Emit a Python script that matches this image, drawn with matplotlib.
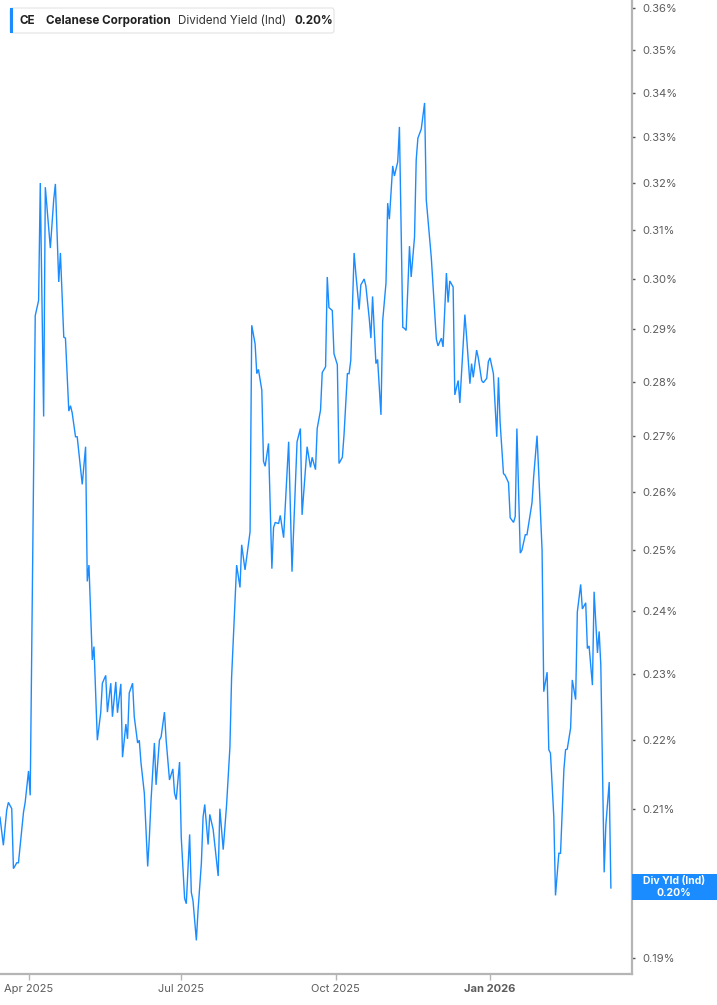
import pandas as pd
import matplotlib
matplotlib.use("Agg")
import matplotlib.pyplot as plt
from matplotlib.patches import Rectangle, FancyBboxPatch
from matplotlib.ticker import FixedLocator, FuncFormatter, NullLocator

plt.rcParams["font.family"] = ["Inter", "DejaVu Sans"]

# CE dividend yield (indicated), %
dates = [
    "2025-03-15", "2025-03-17", "2025-03-19", "2025-03-20", "2025-03-22", "2025-03-23", "2025-03-25", "2025-03-26", "2025-03-29", "2025-03-30",
    "2025-04-01", "2025-04-02", "2025-04-05", "2025-04-07", "2025-04-08", "2025-04-10", "2025-04-11", "2025-04-14", "2025-04-16", "2025-04-17",
    "2025-04-19", "2025-04-20", "2025-04-22", "2025-04-23", "2025-04-25", "2025-04-26", "2025-04-27", "2025-04-29", "2025-04-30", "2025-05-03",
    "2025-05-05", "2025-05-06", "2025-05-07", "2025-05-09", "2025-05-10", "2025-05-12", "2025-05-14", "2025-05-15", "2025-05-17", "2025-05-18",
    "2025-05-20", "2025-05-21", "2025-05-23", "2025-05-24", "2025-05-26", "2025-05-27", "2025-05-29", "2025-05-30", "2025-05-31", "2025-06-02",
    "2025-06-03", "2025-06-05", "2025-06-06", "2025-06-07", "2025-06-09", "2025-06-11", "2025-06-12", "2025-06-13", "2025-06-15", "2025-06-16",
    "2025-06-18", "2025-06-19", "2025-06-21", "2025-06-22", "2025-06-24", "2025-06-26", "2025-06-27", "2025-06-28", "2025-06-30",
    "2025-07-01", "2025-07-03", "2025-07-04", "2025-07-06", "2025-07-07", "2025-07-08", "2025-07-10", "2025-07-11", "2025-07-13", "2025-07-14",
    "2025-07-15", "2025-07-17", "2025-07-18", "2025-07-20", "2025-07-21", "2025-07-23", "2025-07-24", "2025-07-26", "2025-07-27", "2025-07-28",
    "2025-07-30", "2025-07-31", "2025-08-03", "2025-08-05", "2025-08-06", "2025-08-08", "2025-08-11", "2025-08-12", "2025-08-14", "2025-08-15",
    "2025-08-16", "2025-08-18", "2025-08-19", "2025-08-20", "2025-08-22", "2025-08-24", "2025-08-25", "2025-08-26", "2025-08-28", "2025-08-29",
    "2025-08-31", "2025-09-03", "2025-09-05", "2025-09-08", "2025-09-10", "2025-09-11", "2025-09-14", "2025-09-16", "2025-09-17", "2025-09-19",
    "2025-09-20", "2025-09-22", "2025-09-23", "2025-09-25", "2025-09-26", "2025-09-27", "2025-09-29", "2025-09-30",
    "2025-10-02", "2025-10-03", "2025-10-05", "2025-10-06", "2025-10-08", "2025-10-09", "2025-10-10", "2025-10-12", "2025-10-13", "2025-10-15",
    "2025-10-16", "2025-10-18", "2025-10-19", "2025-10-21", "2025-10-22", "2025-10-23", "2025-10-25", "2025-10-26", "2025-10-28", "2025-10-29",
    "2025-10-31", "2025-11-01", "2025-11-02", "2025-11-04", "2025-11-05", "2025-11-07", "2025-11-08", "2025-11-10", "2025-11-11", "2025-11-12",
    "2025-11-14", "2025-11-15", "2025-11-17", "2025-11-18", "2025-11-19", "2025-11-21", "2025-11-23", "2025-11-24", "2025-11-27", "2025-11-30",
    "2025-12-01", "2025-12-03", "2025-12-04", "2025-12-06", "2025-12-07", "2025-12-08", "2025-12-10", "2025-12-11", "2025-12-13", "2025-12-14",
    "2025-12-17", "2025-12-18", "2025-12-20", "2025-12-21", "2025-12-22", "2025-12-24", "2025-12-25", "2025-12-27", "2025-12-28", "2025-12-30",
    "2025-12-31",
    "2026-01-01", "2026-01-03", "2026-01-05", "2026-01-06", "2026-01-07", "2026-01-09", "2026-01-10", "2026-01-12", "2026-01-13", "2026-01-15",
    "2026-01-16", "2026-01-17", "2026-01-19", "2026-01-20", "2026-01-22", "2026-01-23", "2026-01-26", "2026-01-27", "2026-01-29", "2026-01-30",
    "2026-02-01", "2026-02-02", "2026-02-04", "2026-02-05", "2026-02-06", "2026-02-08", "2026-02-09", "2026-02-11", "2026-02-12", "2026-02-14",
    "2026-02-15", "2026-02-16", "2026-02-18", "2026-02-19", "2026-02-21", "2026-02-22", "2026-02-24", "2026-02-25", "2026-02-27", "2026-02-28",
    "2026-03-01", "2026-03-03", "2026-03-04", "2026-03-06", "2026-03-07", "2026-03-08", "2026-03-10", "2026-03-11", "2026-03-13", "2026-03-14",
]

div_yield = [
    0.2089, 0.2050, 0.2099, 0.2110, 0.2101, 0.2018, 0.2026, 0.2026, 0.2096, 0.2110,
    0.2155, 0.2120, 0.2927, 0.2957, 0.3200, 0.2735, 0.3191, 0.3063, 0.3164, 0.3198,
    0.2994, 0.3053, 0.2885, 0.2883, 0.2745, 0.2755, 0.2742, 0.2698, 0.2698, 0.2613,
    0.2680, 0.2448, 0.2475, 0.2322, 0.2343, 0.2200, 0.2241, 0.2286, 0.2298, 0.2242,
    0.2286, 0.2235, 0.2288, 0.2241, 0.2285, 0.2175, 0.2224, 0.2202, 0.2271, 0.2286,
    0.2235, 0.2196, 0.2200, 0.2167, 0.2123, 0.2021, 0.2061, 0.2113, 0.2196, 0.2135,
    0.2200, 0.2205, 0.2242, 0.2200, 0.2142, 0.2158, 0.2123, 0.2114, 0.2168,
    0.2061, 0.1978, 0.1971, 0.2065, 0.1986, 0.1975, 0.1923, 0.1962, 0.2026, 0.2089,
    0.2107, 0.2051, 0.2093, 0.2072, 0.2050, 0.2008, 0.2101, 0.2044, 0.2075, 0.2106,
    0.2190, 0.2295, 0.2475, 0.2438, 0.2509, 0.2467, 0.2531, 0.2908, 0.2872, 0.2815,
    0.2823, 0.2784, 0.2654, 0.2645, 0.2686, 0.2469, 0.2538, 0.2547, 0.2545, 0.2559,
    0.2521, 0.2689, 0.2464, 0.2689, 0.2713, 0.2560, 0.2680, 0.2643, 0.2661, 0.2639,
    0.2713, 0.2747, 0.2817, 0.2828, 0.3004, 0.2943, 0.2937, 0.2853,
    0.2832, 0.2650, 0.2661, 0.2702, 0.2815, 0.2815, 0.2840, 0.3053, 0.3012, 0.2939,
    0.2988, 0.3000, 0.2986, 0.2922, 0.2883, 0.2965, 0.2834, 0.2842, 0.2738, 0.2916,
    0.2992, 0.3157, 0.3123, 0.3237, 0.3215, 0.3246, 0.3323, 0.2904, 0.2902, 0.2898,
    0.3067, 0.3004, 0.3086, 0.3250, 0.3298, 0.3318, 0.3377, 0.3164, 0.3043, 0.2881,
    0.2868, 0.2883, 0.2866, 0.3012, 0.2953, 0.2996, 0.2984, 0.2775, 0.2802, 0.2760,
    0.2929, 0.2887, 0.2796, 0.2834, 0.2808, 0.2860, 0.2845, 0.2802, 0.2798, 0.2806,
    0.2838,
    0.2845, 0.2815, 0.2698, 0.2808, 0.2724, 0.2632, 0.2629, 0.2616, 0.2555, 0.2547,
    0.2557, 0.2713, 0.2495, 0.2500, 0.2526, 0.2526, 0.2581, 0.2627, 0.2700, 0.2634,
    0.2500, 0.2273, 0.2303, 0.2186, 0.2181, 0.2089, 0.1982, 0.2039, 0.2039, 0.2157,
    0.2186, 0.2187, 0.2218, 0.2291, 0.2261, 0.2398, 0.2443, 0.2403, 0.2413, 0.2340,
    0.2344, 0.2283, 0.2431, 0.2333, 0.2367, 0.2314, 0.2013, 0.2078, 0.2139, 0.1992,
]

y_ticks = [0.19, 0.20, 0.21, 0.22, 0.23, 0.24, 0.25, 0.26, 0.27, 0.28,
           0.29, 0.30, 0.31, 0.32, 0.33, 0.34, 0.35, 0.36]
x_ticks = ["2025-04-01", "2025-07-01", "2025-10-01", "2026-01-01"]
x_labels = ["Apr 2025", "Jul 2025", "Oct 2025", "Jan 2026"]
last_label = "0.20%"

blue = "#1a8cff"
axis_grey = "#b5b5b5"
text_grey = "#5c5c5c"

W, H = 717, 1005
fig = plt.figure(figsize=(W / 100, H / 100), dpi=100)
ax = fig.add_axes([0, 31 / H, 632 / W, 974 / H])

ax.plot(pd.to_datetime(dates), div_yield, color=blue, lw=1.0, solid_joinstyle="miter")

ax.set_yscale("log")
ax.set_ylim(0.1880, 0.3619)
ax.set_xlim(pd.Timestamp("2025-03-15"), pd.Timestamp("2026-03-26 14:00"))


def pct(v, pos):
    # the 0.20% label sits under the last-value box
    s = f"{v:.2f}%"
    return "" if s == last_label else s


ax.yaxis.tick_right()
ax.yaxis.set_major_locator(FixedLocator(y_ticks))
ax.yaxis.set_minor_locator(NullLocator())
ax.yaxis.set_major_formatter(FuncFormatter(pct))

ax.set_xticks(pd.to_datetime(x_ticks))
ax.set_xticklabels(x_labels)
ax.xaxis.set_minor_locator(NullLocator())
ax.get_xticklabels()[-1].set_fontweight("bold")

for side in ["left", "top"]:
    ax.spines[side].set_visible(False)
for side in ["right", "bottom"]:
    ax.spines[side].set_color(axis_grey)
    ax.spines[side].set_linewidth(1.6)

ax.tick_params(axis="y", which="major", length=2.5, width=1, color="#555555",
               labelsize=8, labelcolor=text_grey, pad=5)
ax.tick_params(axis="x", which="major", length=4, width=1, color=axis_grey,
               labelsize=8, labelcolor=text_grey, pad=3)
ax.grid(False)

# last-value label on the right axis
fig.add_artist(Rectangle((632 / W, 1 - 900 / H), 85 / W, 26 / H,
                         transform=fig.transFigure, facecolor=blue,
                         edgecolor="none", zorder=5))
fig.text(674 / W, 1 - 881 / H, "Div Yld (Ind)", color="white", fontsize=7.5,
         fontweight="bold", ha="center", va="center", zorder=6)
fig.text(674 / W, 1 - 893 / H, last_label, color="white", fontsize=7.5,
         fontweight="bold", ha="center", va="center", zorder=6)

# legend header box
fig.add_artist(FancyBboxPatch((10 / W, 1 - 33 / H), 324 / W, 25 / H,
                              boxstyle="round,pad=0,rounding_size=0.003",
                              transform=fig.transFigure, facecolor="white",
                              edgecolor="#e3e3e3", lw=0.8, zorder=5))
fig.add_artist(Rectangle((10 / W, 1 - 33 / H), 3 / W, 25 / H,
                         transform=fig.transFigure, facecolor=blue,
                         edgecolor="none", zorder=6))

renderer = fig.canvas.get_renderer()
ty = 1 - 20.5 / H
x_px = 20
pieces = [("CE", "bold", "#222222", 10), ("Celanese Corporation", "bold", "#222222", 8),
          ("Dividend Yield (Ind)", "normal", "#333333", 8), (last_label, "bold", "#222222", 0)]
for txt, weight, col, gap in pieces:
    t = fig.text(x_px / W, ty, txt, fontsize=8.4, fontweight=weight, color=col,
                 va="center", zorder=7)
    x_px += t.get_window_extent(renderer).width + gap

fig.savefig("out.png", dpi=100)
